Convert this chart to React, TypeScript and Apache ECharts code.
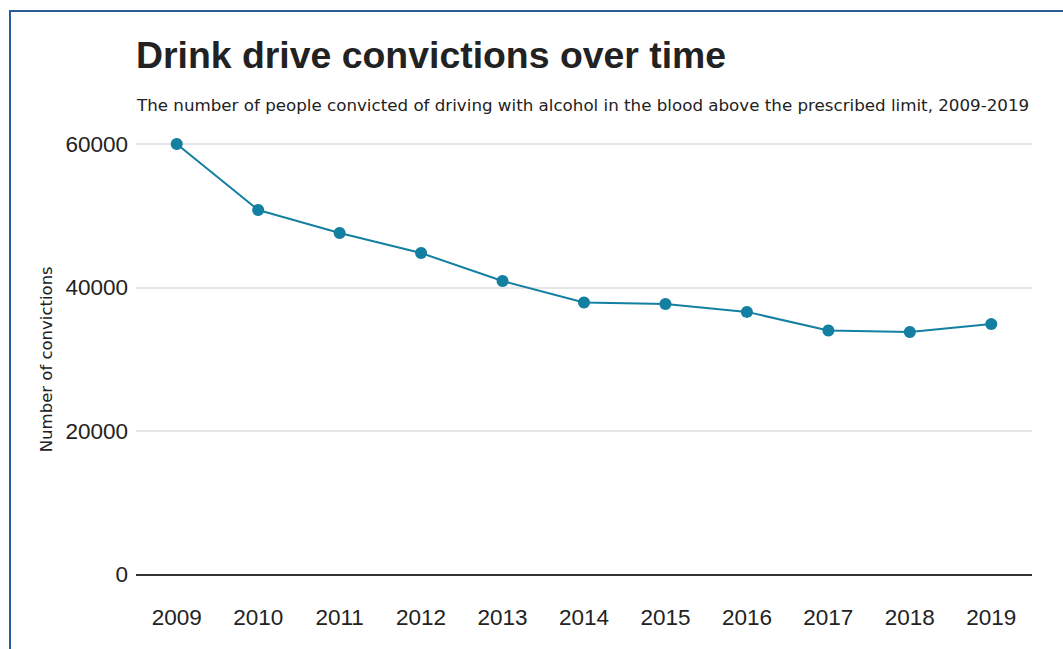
import React, { useEffect, useRef } from "react";
import * as echarts from "echarts";

const years = ["2009", "2010", "2011", "2012", "2013", "2014", "2015", "2016", "2017", "2018", "2019"];
const convictions = [60000, 50800, 47600, 44800, 40900, 37900, 37700, 36600, 34000, 33800, 34900];
const yTicks = [0, 20000, 40000, 60000];

const titleText = "Drink drive convictions over time";
const subtitleText =
  "The number of people convicted of driving with alcohol in the blood above the prescribed limit, 2009-2019";
const yName = "Number of convictions";

export default function App() {
  const ref = useRef<HTMLDivElement>(null);
  useEffect(() => {
    if (!ref.current) return;
    const chart = echarts.init(ref.current, null, { renderer: "svg" });
    chart.setOption({
      animation: false,
      backgroundColor: "#ffffff",
      title: [
        {
          text: titleText,
          left: 131,
          top: 31,
          textStyle: { fontFamily: "Liberation Sans, Arial, sans-serif", fontSize: 37.4, fontWeight: "bold", color: "#222222" },
        },
        {
          text: subtitleText,
          left: 132,
          top: 91,
          textStyle: { fontFamily: "DejaVu Sans, sans-serif", fontSize: 16.7, fontWeight: "normal", color: "#222222" },
        },
      ],
      graphic: [
        {
          type: "rect",
          shape: { x: 10, y: 11, width: 1200, height: 800 },
          style: { fill: "none", stroke: "#2b5d96", lineWidth: 2 },
          silent: true,
        },
      ],
      grid: { left: 136, right: 31, top: 144, bottom: 74.5, containLabel: false },
      xAxis: {
        type: "category",
        data: years,
        boundaryGap: true,
        axisLine: { show: false },
        axisTick: { show: false },
        axisLabel: {
          color: "#222222",
          fontFamily: "Liberation Sans, Arial, sans-serif",
          fontSize: 22.5,
          margin: 31,
        },
        splitLine: { show: false },
      },
      yAxis: {
        type: "value",
        min: yTicks[0],
        max: yTicks[yTicks.length - 1],
        interval: 20000,
        name: yName,
        nameLocation: "middle",
        nameGap: 78,
        nameRotate: 90,
        nameTextStyle: { fontFamily: "DejaVu Sans, sans-serif", fontSize: 16.5, color: "#222222" },
        axisLine: { show: false },
        axisTick: { show: false },
        axisLabel: {
          color: "#222222",
          fontFamily: "Liberation Sans, Arial, sans-serif",
          fontSize: 22.5,
          margin: 8,
          formatter: (v: number) => String(v),
        },
        splitLine: { show: true, lineStyle: { color: "#dcdcdc", width: 1.5 } },
      },
      series: [
        {
          type: "line",
          data: convictions,
          symbol: "circle",
          symbolSize: 12,
          lineStyle: { color: "#1380A1", width: 2 },
          itemStyle: { color: "#1380A1" },
          markLine: {
            silent: true,
            symbol: "none",
            label: { show: false },
            lineStyle: { color: "#333333", width: 2, type: "solid" },
            data: [{ yAxis: 0 }],
          },
        },
      ],
    });
    return () => chart.dispose();
  }, []);
  return <div ref={ref} style={{ position: "fixed", left: 0, top: 0, width: 1063, height: 649 }} />;
}
